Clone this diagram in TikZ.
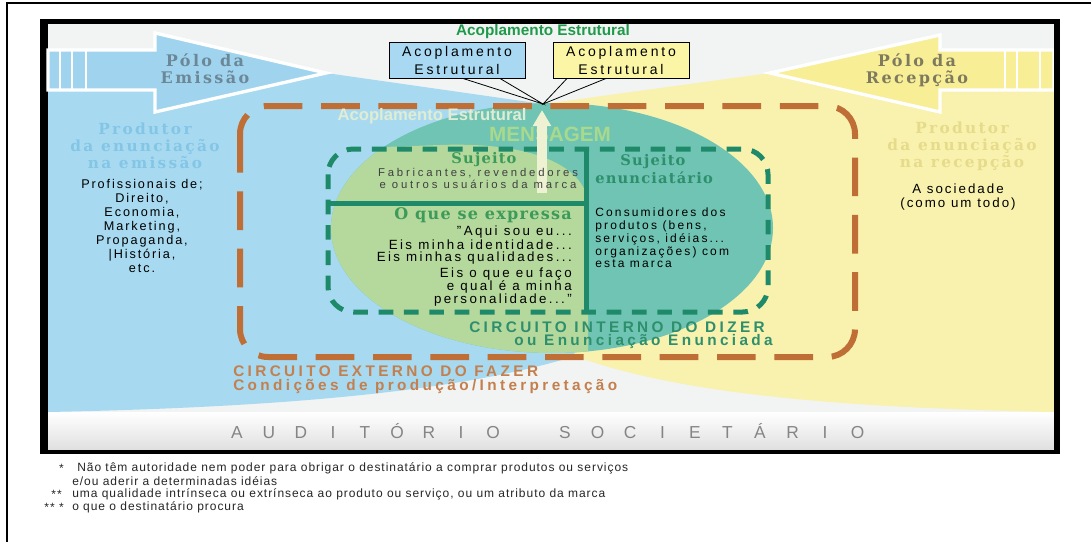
\documentclass[tikz,border=0pt]{standalone}
\usepackage{fontspec}
\setmainfont{Liberation Sans}
\newfontfamily\slabfont{DejaVu Serif}
\usetikzlibrary{calc, arrows.meta, positioning}

\definecolor{fanblue}{HTML}{A7DAF0}
\definecolor{fanyellow}{HTML}{F9F1AE}
\definecolor{arrowblue}{HTML}{A0D4EE}
\definecolor{arrowyellow}{HTML}{F8EE96}
\definecolor{lensgreen}{HTML}{B5D89C}
\definecolor{lensteal}{HTML}{70C4B3}
\definecolor{circorange}{HTML}{BF6E36}
\definecolor{circgreen}{HTML}{1E8A69}
\definecolor{frameback}{HTML}{F2F4F4}
\definecolor{boxblue}{HTML}{A9D9F2}
\definecolor{boxyellow}{HTML}{FBF5A6}
\definecolor{poleblue}{HTML}{6C8797}
\definecolor{poleyellow}{HTML}{7D7A5E}
\definecolor{prodblue}{HTML}{84C5E6}
\definecolor{prodyellow}{HTML}{E6DB8A}
\definecolor{headgreen}{HTML}{3D9B5A}
\definecolor{headteal}{HTML}{2E8F6C}
\definecolor{msggreen}{HTML}{A9D98C}
\definecolor{msgcream}{HTML}{EEF2D2}
\definecolor{faintgreen}{HTML}{E0ECD4}
\definecolor{titlegreen}{HTML}{1F9A4A}
\definecolor{extorange}{HTML}{C47F4E}
\definecolor{audgray}{HTML}{858585}

\begin{document}
\begin{tikzpicture}[x=0.75pt, y=-0.75pt,
    >=Stealth,
    txt/.style={inner sep=0pt, align=center},
    pole/.style={txt, font=\slabfont\bfseries\fontsize{12}{12.75}\selectfont\addfontfeatures{LetterSpace=15}},
    producer/.style={txt, font=\slabfont\bfseries\fontsize{11.5}{12.75}\selectfont\addfontfeatures{LetterSpace=15}},
    plain/.style={txt, font=\fontsize{9.5}{10.5}\selectfont\addfontfeatures{LetterSpace=15}},
    small/.style={txt, font=\fontsize{8.5}{9}\selectfont\addfontfeatures{LetterSpace=25}},
    quote/.style={txt, align=right, anchor=east, font=\fontsize{10}{9.2}\selectfont\addfontfeatures{LetterSpace=18}},
    head/.style={txt, font=\slabfont\bfseries\fontsize{11}{12}\selectfont\addfontfeatures{LetterSpace=8}},
    circ/.style={txt, font=\bfseries\fontsize{11.5}{12}\selectfont\addfontfeatures{LetterSpace=22}},
    callout/.style={draw=black, line width=0.7pt, inner sep=0pt, minimum width=102pt,
        minimum height=27pt, align=center,
        font=\fontsize{10.5}{13.5}\selectfont\addfontfeatures{LetterSpace=20}},
    aud/.style={inner sep=0pt, anchor=base, text=audgray, font=\fontsize{13}{14}\selectfont},
    note/.style={inner sep=0pt, font=\fontsize{9}{10}\selectfont\addfontfeatures{LetterSpace=8}, text=black!85}
]

    \useasboundingbox (0,0) rectangle (1091,542);

    % Frames ---------------------------------------------------

    \fill[white] (0,0) rectangle (1091,542);
    \draw[line width=1.5pt] (1091,3) -- (7,3) -- (7,542);
    \fill[black] (40,19) rectangle (1060,454);
    \fill[frameback] (48,24) rectangle (1054,449);

    % Fans and lens --------------------------------------------

    \coordinate (hub) at (543,104);
    \coordinate (low) at (575,356);
    \fill[fanblue] (hub) -- (326,73) -- (48,73) -- (48,412)
        .. controls (250,408) and (450,395) .. (low) -- cycle;
    \fill[fanyellow] (hub) -- (770,73) -- (1054,73) -- (1054,412)
        .. controls (850,408) and (680,395) .. (low) -- cycle;
    \fill[lensteal] (552,228) ellipse [x radius=221, y radius=125];
    \begin{scope}
        \clip (552,228) ellipse [x radius=221, y radius=125];
        \fill[lensgreen] (300,150) -- (440,145) .. controls (520,142) and (580,160) .. (588,200)
            -- (588,360) -- (300,360) -- cycle;
    \end{scope}
    \shade[top color=white, bottom color=black!12] (48,412) rectangle (1054,449);

    % Pole arrows ----------------------------------------------

    \filldraw[fill=arrowblue, draw=white, line width=2.5pt]
        (48,50) -- (155,50) -- (155,33) -- (326,73) -- (155,112) -- (155,90) -- (48,90) -- cycle;
    \foreach \sx in {60,72,86}
        \draw[white, line width=2pt] (\sx,50) -- (\sx,90);
    \filldraw[fill=arrowyellow, draw=white, line width=2.5pt]
        (1054,50) -- (940,50) -- (940,35) -- (770,73) -- (940,112) -- (940,90) -- (1054,90) -- cycle;
    \foreach \sx in {1005,1017,1040}
        \draw[white, line width=2pt] (\sx,50) -- (\sx,90);
    \fill[black] (1054,19) rectangle (1060,454);

    % Circuits -------------------------------------------------

    \draw[circorange, line width=4.5pt, rounded corners=21pt, dash pattern=on 29pt off 14pt]
        (240,106) rectangle (855,357);
    \draw[circgreen, line width=3.75pt, rounded corners=19pt, dash pattern=on 11pt off 8pt]
        (328,149) rectangle (768,312);
    \draw[circgreen, line width=3.75pt] (586,149) -- (586,312);
    \draw[circgreen, line width=3.75pt] (328,203) -- (586,203);

    % Labels ---------------------------------------------------

    \node[pole, text=poleblue] (pe) at (205,69) {Pólo da\\Emissão};
    \node[pole, text=poleyellow] (pr) at (917,70) {Pólo da\\Recepção};
    \node[producer, text=prodblue] (prode) at (145,146) {Produtor\\da enunciação\\na emissão};
    \node[producer, text=prodyellow] (prodr) at (962,146) {Produtor\\da enunciação\\na recepção};
    \node[plain] (prof) at (142,226)
        {Profissionais de;\\Direito,\\Economia,\\Marketing,\\Propaganda,\\|História,\\etc.};
    \node[plain, font=\fontsize{10}{10}\selectfont\addfontfeatures{LetterSpace=15}] (soc) at (958,197)
        {A sociedade\\(como um todo)};

    \node[txt, text=titlegreen, font=\bfseries\fontsize{11.5}{12}\selectfont] (title) at (543,32)
        {Acoplamento Estrutural};
    \node[callout, fill=boxblue] (acopA) at (457,60) {Acoplamento\\Estrutural};
    \node[callout, fill=boxyellow] (acopB) at (621,60) {Acoplamento\\Estrutural};
    \draw[line width=0.6pt] ($(acopA.south)+(6,0)$) -- (hub) -- ($(acopA.south)+(43,0)$);
    \draw[line width=0.6pt] ($(acopB.south)+(-54,0)$) -- (hub) -- ($(acopB.south)+(-15,0)$);

    \node[txt, text=faintgreen, font=\bfseries\fontsize{12.5}{13}\selectfont] (faint) at (432,116)
        {Acoplamento Estrutural};
    \node[txt, text=msggreen, font=\bfseries\fontsize{15.5}{16}\selectfont] (msg) at (550,134) {MENSAGEM};

    % Message arrow
    \coordinate (msgbase) at (542,193);
    \coordinate (msgtip) at (542,110);
    \draw[msgcream, line width=7pt, -{Triangle[width=13pt, length=12pt]}] (msgbase) -- (msgtip);

    \node[head, text=headgreen] (sujA) at (484,160) {Sujeito};
    \node[small, text=black!75] (fab) at (478,178) {Fabricantes, revendedores\\e outros usuários da marca};
    \node[head, text=headgreen, anchor=east, font=\slabfont\bfseries\fontsize{12}{12}\selectfont\addfontfeatures{LetterSpace=8}]
        (expr) at (572,215) {O que se expressa};
    \node[quote] (qa) at (572,245) {"Aqui sou eu...\\Eis minha identidade...\\Eis minhas qualidades...};
    \node[quote, font=\fontsize{10}{10}\selectfont\addfontfeatures{LetterSpace=18}] (qb) at (572,287)
        {Eis o que eu faço\\e qual é a minha\\personalidade..."};

    \node[head, text=headteal] (sujB) at (653,162) {Sujeito};
    \node[head, text=headteal, anchor=west] (enun) at (595,178) {enunciatário};
    \node[plain, align=left, anchor=west, font=\fontsize{9}{9.6}\selectfont\addfontfeatures{LetterSpace=18}]
        (cons) at (595,238) {Consumidores dos\\produtos (bens,\\serviços, idéias...\\organizações) com\\esta marca};

    \node[circ, text=headteal, anchor=east] (cint) at (765,327) {CIRCUITO INTERNO DO DIZER};
    \node[circ, text=headteal, anchor=east] (cenun) at (773,342) {ou Enunciação Enunciada};
    \node[circ, text=extorange, anchor=west] (cext) at (233,371) {CIRCUITO EXTERNO DO FAZER};
    \node[circ, text=extorange, anchor=west] (ccond) at (233,387) {Condições de produção/Interpretação};

    % Auditorio
    \foreach \ch [count=\i from 0] in {A,U,D,I,T,Ó,R,I,O}
        \node[aud] (au\i) at (237+32*\i,438) {\ch};
    \foreach \ch [count=\i from 0] in {S,O,C,I,E,T,Á,R,I,O}
        \node[aud] (so\i) at (565+32.5*\i,438) {\ch};

    % Notes
    \node[note, anchor=east] (s1) at (64,468) {*};
    \node[note, anchor=west] (n1) at (77,468)
        {Não têm autoridade nem poder para obrigar o destinatário a comprar produtos ou serviços};
    \node[note, anchor=west] (n1b) at (72,481) {e/ou aderir a determinadas idéias};
    \node[note, anchor=east] (s2) at (62,494) {**};
    \node[note, anchor=west] (n2) at (72,494)
        {uma qualidade intrínseca ou extrínseca ao produto ou serviço, ou um atributo da marca};
    \node[note, anchor=east] (s3) at (64,507) {** *};
    \node[note, anchor=west] (n3) at (72,507) {o que o destinatário procura};

\end{tikzpicture}
\end{document}
